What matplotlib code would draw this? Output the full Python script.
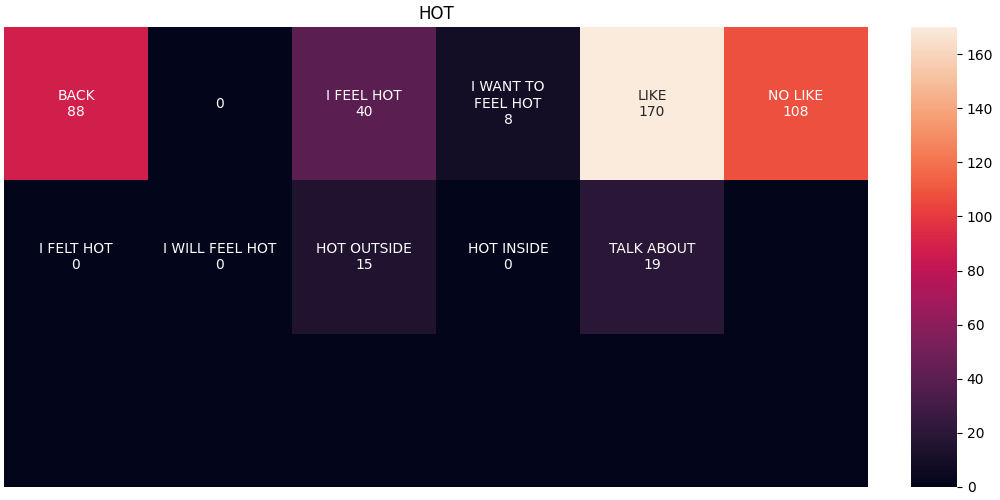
import numpy as np
import matplotlib
matplotlib.use("Agg")
import matplotlib.pyplot as plt
import seaborn as sns

# words in each cell of the grid (empty = no label)
words = [
    ["BACK", "", "I FEEL HOT", "I WANT TO\nFEEL HOT", "LIKE", "NO LIKE"],
    ["I FELT HOT", "I WILL FEEL HOT", "HOT OUTSIDE", "HOT INSIDE", "TALK ABOUT", ""],
    ["", "", "", "", "", ""],
]
counts = [
    [88, 0, 40, 8, 170, 108],
    [0, 0, 15, 0, 19, 0],
    [0, 0, 0, 0, 0, 0],
]
show_value = [
    [True, True, True, True, True, True],
    [True, True, True, True, True, False],
    [False, False, False, False, False, False],
]

values = np.array(counts)
labels = []
for r in range(len(words)):
    row = []
    for c in range(len(words[r])):
        if not show_value[r][c]:
            row.append("")
        elif words[r][c]:
            row.append(f"{words[r][c]}\n{counts[r][c]}")
        else:
            row.append(f"{counts[r][c]}")
    labels.append(row)
labels = np.array(labels)

fig = plt.figure(figsize=(10, 5), dpi=100)
ax = fig.add_axes([0.004, 0.026, 0.864, 0.920])
cax = fig.add_axes([0.911, 0.026, 0.046, 0.920])
sns.heatmap(values, annot=labels, fmt="", cmap="rocket",
            xticklabels=False, yticklabels=False, ax=ax, cbar_ax=cax)
ax.set_title("HOT")

plt.savefig("out.png")
